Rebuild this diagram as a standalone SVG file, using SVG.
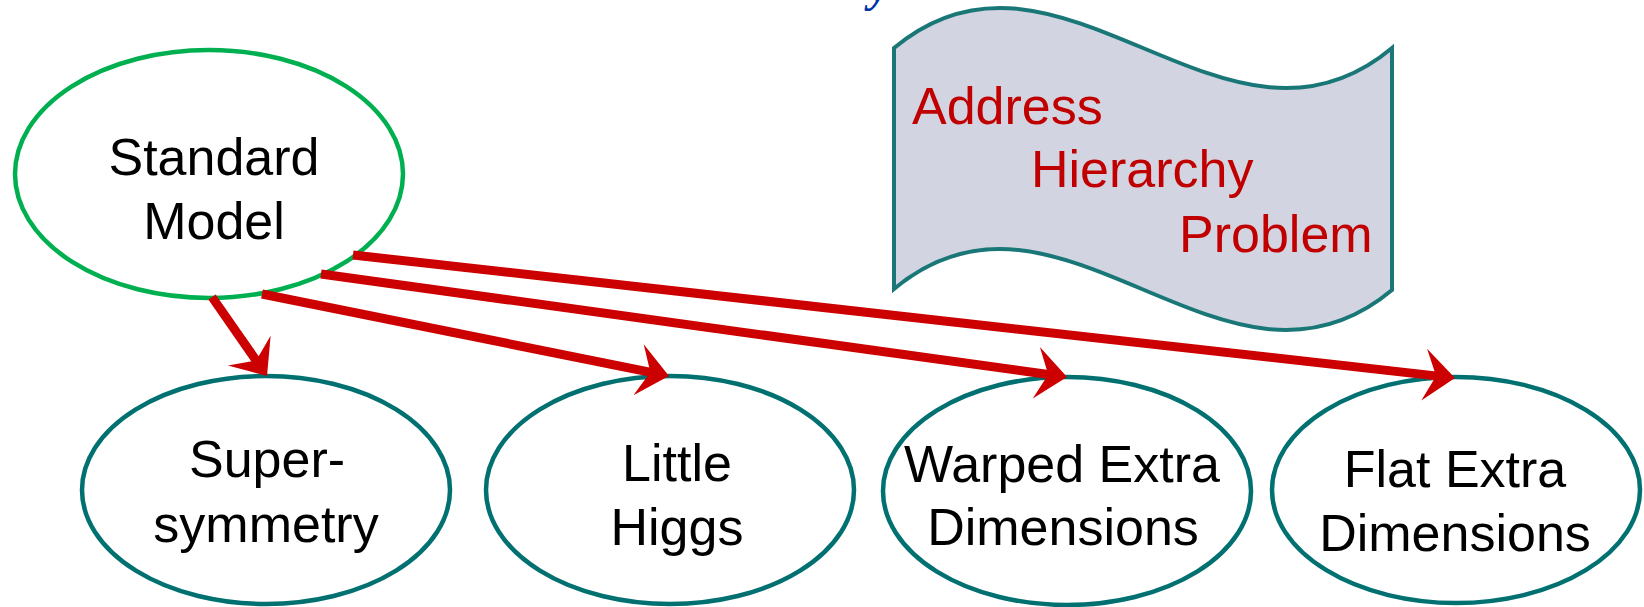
<svg xmlns="http://www.w3.org/2000/svg" width="1644" height="607" viewBox="0 0 1644 607">
  <style>
    .lbl { font-family: "Liberation Sans", Arial, sans-serif; font-size: 52px; fill: #000; text-anchor: middle; }
    .ban { font-family: "Liberation Sans", Arial, sans-serif; font-size: 52px; fill: #c00000; }
    .node { fill: #ffffff; stroke: #007070; stroke-width: 4.5; }
    .conn { stroke: #cc0000; stroke-width: 9; fill: none; marker-end: url(#stealth); }
  </style>
  <defs>
    <marker id="stealth" markerUnits="userSpaceOnUse" viewBox="0 0 32 54" markerWidth="32" markerHeight="54" refX="15" refY="27" orient="auto" overflow="visible">
      <path d="M32,27 L1,1 L13,27 L1,53 Z" fill="#cc0000"/>
    </marker>
  </defs>
  <rect width="1644" height="607" fill="#ffffff"/>

  <text x="869" y="1" font-family="Liberation Serif, serif" font-style="italic" font-weight="bold" font-size="46" fill="#0033a8">y</text>

  <g id="banner">
    <path d="M894,48 C1060,-91 1226,187 1392,48 L1392,290 C1226,429 1060,150 894,289 Z" fill="#d3d4e1" stroke="#1a7777" stroke-width="4" stroke-linejoin="miter"/>
    <text class="ban" x="912" y="124">Address</text>
    <text class="ban" x="1031" y="187">Hierarchy</text>
    <text class="ban" x="1179" y="252">Problem</text>
  </g>

  <g id="standard-model">
    <ellipse cx="209" cy="174" rx="194" ry="124" fill="#ffffff" stroke="#00b050" stroke-width="4.5"/>
    <text class="lbl" x="214" y="175">Standard</text>
    <text class="lbl" x="214" y="239">Model</text>
  </g>

  <g id="supersymmetry">
    <ellipse class="node" cx="266" cy="490" rx="184" ry="114"/>
    <text class="lbl" x="267" y="477">Super-</text>
    <text class="lbl" x="266" y="542">symmetry</text>
  </g>

  <g id="little-higgs">
    <ellipse class="node" cx="670" cy="490" rx="184" ry="114"/>
    <text class="lbl" x="677" y="481">Little</text>
    <text class="lbl" x="677" y="545">Higgs</text>
  </g>

  <g id="warped-extra-dimensions">
    <ellipse class="node" cx="1067" cy="491" rx="184" ry="114"/>
    <text class="lbl" x="1062" y="482">Warped Extra</text>
    <text class="lbl" x="1063" y="545">Dimensions</text>
  </g>

  <g id="flat-extra-dimensions">
    <ellipse class="node" cx="1456" cy="490" rx="184" ry="113"/>
    <text class="lbl" x="1455" y="487">Flat Extra</text>
    <text class="lbl" x="1455" y="551">Dimensions</text>
  </g>

  <g id="connectors">
    <line class="conn" x1="212" y1="297" x2="257.3" y2="362.1"/>
    <line class="conn" x1="262" y1="294" x2="652.3" y2="372.6"/>
    <line class="conn" x1="321" y1="274" x2="1050.2" y2="374.7"/>
    <line class="conn" x1="353" y1="255" x2="1438.1" y2="376.1"/>
  </g>
</svg>
